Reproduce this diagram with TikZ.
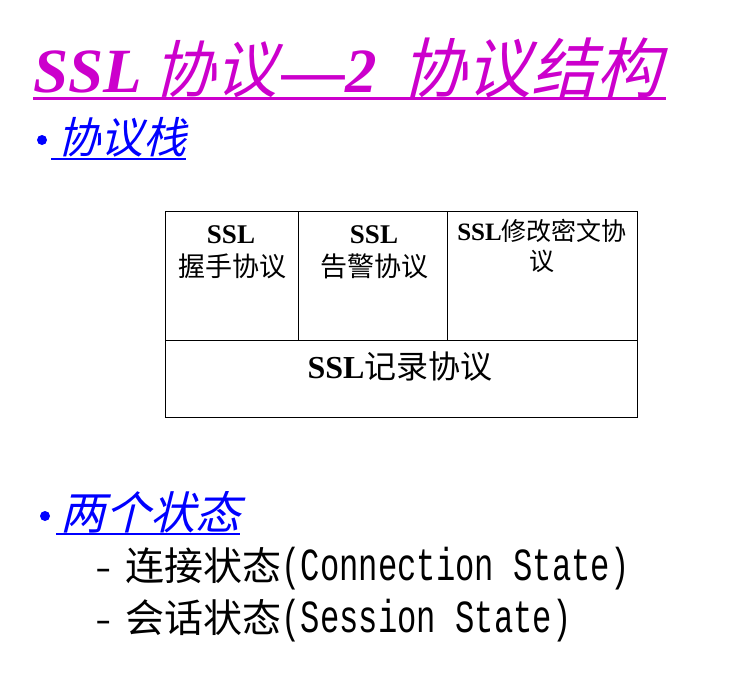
\documentclass[tikz,border=0pt]{standalone}
\usepackage{fontspec}
\usetikzlibrary{calc}
\setmainfont{Liberation Serif}
\newfontfamily\cjk{Noto Sans CJK SC}
\newfontfamily\cjkit[FakeSlant=0.25]{Noto Sans CJK SC}
\newfontfamily\monocond[FakeStretch=0.7]{Liberation Mono}
\definecolor{titlemag}{HTML}{CC00CC}
\definecolor{bulletblue}{HTML}{0000FF}
\tikzset{
  cell/.style={draw=black, line width=1.2pt, rectangle, inner sep=0, anchor=north west},
  celltext/.style={anchor=base, inner sep=0, text=black},
  dot/.style={circle, fill=bulletblue, inner sep=0, minimum size=10pt},
  heading/.style={anchor=base west, inner sep=0, text=bulletblue},
  item/.style={anchor=base west, inner sep=0, text=black}
}
\begin{document}
\begin{tikzpicture}[x=1pt,y=-1pt]
\useasboundingbox (0,0) rectangle (740,689);

% title
\node[anchor=base west, inner sep=0, text=titlemag] (title) at (33,92)
  {\bfseries\itshape
   \fontsize{63}{63}\selectfont SSL\hspace{12pt}%
   {\mdseries\fontsize{62}{62}\selectfont\cjkit 协议}%
   \hspace{5pt}—2\hspace{24pt}%
   {\mdseries\fontsize{65}{65}\selectfont\cjkit 协议结构}};
\draw[titlemag, line width=3pt] ($(title.base west)+(0,6)$) -- ($(title.base east)+(5,6)$);

% first bullet
\node[dot] (b1) at (42,140) {};
\node[heading] (stack) at (57,153) {\fontsize{43}{43}\selectfont\cjkit 协议栈};
\draw[bulletblue, line width=2pt] ($(stack.base west)+(-6,6)$) -- ($(stack.base east)+(0,6)$);

% protocol stack table
\node[cell, minimum width=133pt, minimum height=129pt] (hs) at (165,211) {};
\node[cell, minimum width=149pt, minimum height=129pt] (al) at (298,211) {};
\node[cell, minimum width=190pt, minimum height=129pt] (cc) at (447,211) {};
\node[cell, minimum width=472pt, minimum height=77pt] (rec) at (165,340) {};

\node[celltext] (hs1) at (231,243) {\fontsize{27}{27}\selectfont\bfseries SSL};
\node[celltext] (hs2) at (232,276) {\fontsize{27}{27}\selectfont\cjk 握手协议};
\node[celltext] (al1) at (374,243) {\fontsize{27}{27}\selectfont\bfseries SSL};
\node[celltext] (al2) at (374,276) {\fontsize{27}{27}\selectfont\cjk 告警协议};
\node[celltext] (cc1) at (542,240) {\fontsize{25}{25}\selectfont\bfseries SSL{\mdseries\cjk 修改密文协}};
\node[celltext] (cc2) at (542,270) {\fontsize{25}{25}\selectfont\cjk 议};
\node[celltext] (rec1) at (400,378) {\fontsize{32}{32}\selectfont\bfseries SSL{\mdseries\cjk 记录协议}};

% second bullet
\node[dot] (b2) at (45,516) {};
\node[heading] (states) at (60,529) {\fontsize{45}{45}\selectfont\cjkit 两个状态};
\draw[bulletblue, line width=2pt] ($(states.base west)+(-4,5)$) -- ($(states.base east)+(0,5)$);

\node[item] (conn) at (95,580)
  {\fontsize{39}{39}\selectfont{\monocond –}\hspace{14pt}{\cjk 连接状态}{\fontsize{46}{46}\selectfont\monocond (Connection State)}};
\node[item] (sess) at (95,632)
  {\fontsize{39}{39}\selectfont{\monocond –}\hspace{14pt}{\cjk 会话状态}{\fontsize{46}{46}\selectfont\monocond (Session State)}};
\end{tikzpicture}
\end{document}
